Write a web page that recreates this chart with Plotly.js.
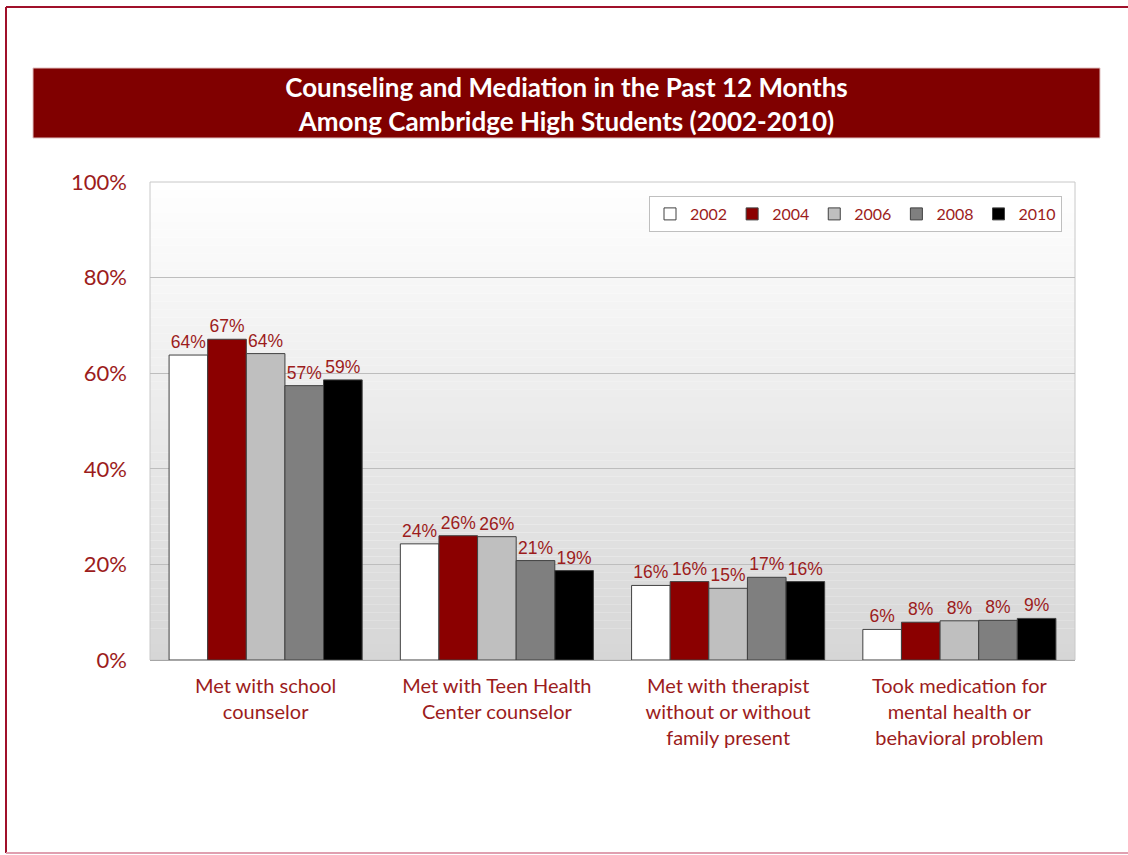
<!DOCTYPE html>
<html><head><meta charset="utf-8">
<script src="https://cdn.plot.ly/plotly-3.0.1.min.js"></script>
<style>html,body{margin:0;padding:0;background:#fff;}#chart{width:1128px;height:855px;}</style>
</head><body><div id="chart"></div>
<script>
const categories = ["Met with school<br>counselor", "Met with Teen Health<br>Center counselor", "Met with therapist<br>without or without<br>family present", "Took medication for<br>mental health or<br>behavioral problem"];
const years = ["2002", "2004", "2006", "2008", "2010"];
const v2002 = [63.8, 24.3, 15.6, 6.4];
const v2004 = [67.1, 26.0, 16.4, 7.9];
const v2006 = [64.1, 25.8, 15.0, 8.2];
const v2008 = [57.4, 20.8, 17.3, 8.3];
const v2010 = [58.6, 18.7, 16.4, 8.7];
const labels2002 = ["64%", "24%", "16%", "6%"];
const labels2004 = ["67%", "26%", "16%", "8%"];
const labels2006 = ["64%", "26%", "15%", "8%"];
const labels2008 = ["57%", "21%", "17%", "8%"];
const labels2010 = ["59%", "19%", "16%", "9%"];
const yTickVals = [0, 20, 40, 60, 80, 100];
const yTickText = ["0%", "20%", "40%", "60%", "80%", "100%"];

const series = [v2002, v2004, v2006, v2008, v2010];
const seriesLabels = [labels2002, labels2004, labels2006, labels2008, labels2010];
const colors = ["#ffffff", "#8b0000", "#bfbfbf", "#7f7f7f", "#000000"];
const red = "#9c1c1c";

const traces = years.map((yr, i) => ({
  type: "bar", name: yr, x: categories, y: series[i],
  text: seriesLabels[i], textposition: "outside", cliponaxis: false,
  textfont: {family: "Liberation Sans, Arial", size: 17.5, color: red},
  marker: {color: colors[i], line: {color: "#404040", width: 1}},
  hoverinfo: "skip"
}));

const L = 150, R = 1075, T = 182, B = 660;
const px = p => (p - L) / (R - L);
const py = p => (B - p) / (B - T);

const shapes = [];
const N = 60;
for (let k = 0; k < N; k++) {
  const f = (k + 0.5) / N;
  const c = Math.round(255 - f * (255 - 214));
  shapes.push({type: "rect", xref: "paper", yref: "paper", layer: "below",
    x0: 0, x1: 1, y0: 1 - (k + 1) / N, y1: 1 - k / N,
    fillcolor: `rgb(${c},${c},${c})`, line: {width: 0}});
}
shapes.push({type: "rect", xref: "paper", yref: "paper", layer: "below", x0: 0, x1: 1, y0: 0, y1: 1,
  line: {color: "#c8c8c8", width: 1}, fillcolor: "rgba(0,0,0,0)"});
shapes.push({type: "rect", xref: "paper", yref: "paper", x0: px(33), x1: px(1100), y0: py(138), y1: py(68),
  fillcolor: "#800000", line: {color: "#e0c0c0", width: 1}});
shapes.push({type: "line", xref: "paper", yref: "paper", x0: px(6), x1: px(6), y0: py(7), y1: py(853), line: {color: "#a0102a", width: 2}});
shapes.push({type: "line", xref: "paper", yref: "paper", x0: px(6), x1: px(1128), y0: py(7), y1: py(7), line: {color: "#a0102a", width: 2}});
shapes.push({type: "line", xref: "paper", yref: "paper", x0: px(6), x1: px(1128), y0: py(853), y1: py(853), line: {color: "#e0a0b0", width: 2}});

const layout = {
  width: 1128, height: 855,
  margin: {l: L, r: 1128 - R, t: T, b: 855 - B},
  paper_bgcolor: "#ffffff", plot_bgcolor: "rgba(0,0,0,0)",
  barmode: "group", bargap: 0.165, bargroupgap: 0,
  showlegend: true,
  title: {text: "<b>Counseling and Mediation in the Past 12 Months<br>Among Cambridge High Students (2002-2010)</b>",
    font: {family: "Lato, Open Sans", size: 26, color: "#ffffff"},
    xref: "container", yref: "container", x: 566.5 / 1128, y: 1 - 97 / 855, xanchor: "center", yanchor: "middle"},
  xaxis: {tickfont: {family: "Lato, Open Sans", size: 20, color: red}, showline: true, linecolor: "#a6a6a6",
    ticks: "", fixedrange: true, ticklabelstandoff: 8},
  yaxis: {range: [0, 100], tickvals: yTickVals, ticktext: yTickText, showgrid: true, gridcolor: "#bdbdbd", gridwidth: 1,
    tickfont: {family: "Lato, Open Sans", size: 22, color: red}, zeroline: false, ticks: "", ticklabelstandoff: 22, fixedrange: true},
  legend: {orientation: "h", x: px(1062), xanchor: "right", y: py(196), yanchor: "top",
    bgcolor: "#ffffff", bordercolor: "#bfbfbf", borderwidth: 1,
    font: {family: "Lato, Open Sans", size: 16, color: red}, itemwidth: 30, tracegroupgap: 0},
  shapes: shapes
};
Plotly.newPlot("chart", traces, layout, {displayModeBar: false, staticPlot: true});
</script></body></html>
